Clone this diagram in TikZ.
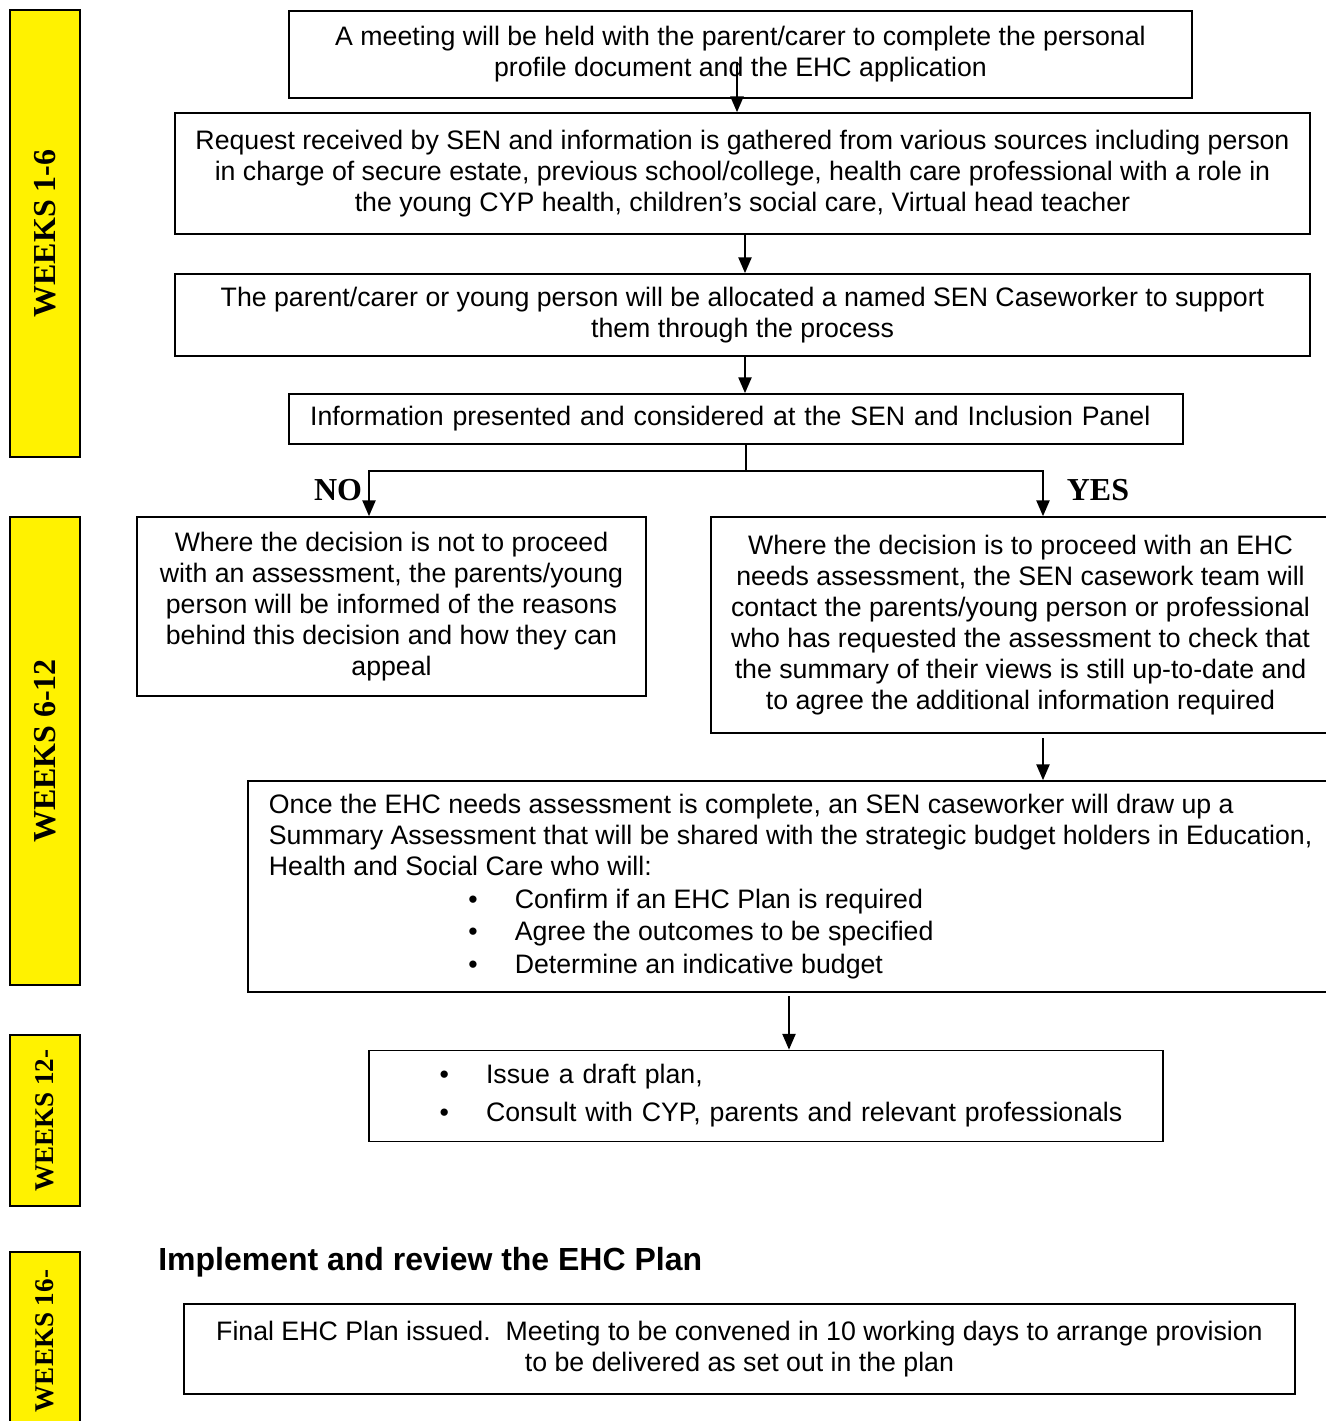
\documentclass[tikz,border=0pt]{standalone}
\usepackage{fontspec}
\setmainfont{Liberation Sans}
\newfontfamily\timesfam{Liberation Serif}
\usetikzlibrary{arrows.meta}

\newcommand{\bodyfont}{\fontsize{15.2}{17.6}\selectfont}
\newcommand{\tagfont}{\timesfam\bfseries\fontsize{18.2}{22}\selectfont}
\newcommand{\smalltagfont}{\timesfam\bfseries\fontsize{15.4}{18}\selectfont}
\newcommand{\bul}[1]{\makebox[#1][r]{\textbullet\hspace{0.74cm}}}

\tikzset{
  box/.style={draw, line width=1pt, inner sep=0pt, align=center, font=\bodyfont},
  weeks/.style={draw, fill=yellow, line width=1pt, rotate=90, minimum height=1.4cm,
    inner sep=0pt, font=\tagfont},
  arr/.style={-{Triangle[width=7.5pt,length=9pt]}, line width=1pt},
  yesno/.style={font=\tagfont, inner sep=0pt},
}

\begin{document}
\begin{tikzpicture}[x=0.02cm, y=-0.02cm]
  \useasboundingbox (0,0) rectangle (1326,1421);

  % week bars
  \node[weeks, minimum width=8.94cm] (wk1) at (45,233.5) {WEEKS 1-6};
  \node[weeks, minimum width=9.36cm] (wk2) at (45,751) {WEEKS 6-12};
  \node[weeks, minimum width=3.42cm, font=\smalltagfont] (wk3) at (45,1120.5) {WEEKS 12-};
  \node[weeks, minimum width=3.56cm, font=\smalltagfont] (wk4) at (45,1341) {WEEKS 16-};

  % main boxes
  \node[box, minimum width=18.06cm, minimum height=1.74cm] (meet) at (740.5,54.5)
    {A meeting will be held with the parent/carer to complete the personal\\
     profile document and the EHC application};
  \node[box, minimum width=22.7cm, minimum height=2.42cm] (request) at (742.5,173.5)
    {Request received by SEN and information is gathered from various sources including person\\
     in charge of secure estate, previous school/college, health care professional with a role in\\
     the young CYP health, children’s social care, Virtual head teacher};
  \node[box, minimum width=22.7cm, minimum height=1.64cm] (alloc) at (742.5,315)
    {The parent/carer or young person will be allocated a named SEN Caseworker to support\\
     them through the process};
  \node[box, align=left, text width=17.04cm, inner xsep=0.42cm, minimum height=1cm] (panel) at (736,419)
    {Information presented and considered at the SEN and Inclusion Panel};

  \node[box, minimum width=10.18cm, minimum height=3.58cm] (no) at (391.5,606.5)
    {Where the decision is not to proceed\\
     with an assessment, the parents/young\\
     person will be informed of the reasons\\
     behind this decision and how they can\\
     appeal};
  \node[box, minimum width=12.38cm, minimum height=4.32cm] (yes) at (1020.5,625)
    {Where the decision is to proceed with an EHC\\
     needs assessment, the SEN casework team will\\
     contact the parents/young person or professional\\
     who has requested the assessment to check that\\
     the summary of their views is still up-to-date and\\
     to agree the additional information required};

  \node[box, anchor=west, align=left, inner xsep=0.42cm, minimum width=21.66cm, minimum height=4.22cm] (summary) at (247,886.5)
    {Once the EHC needs assessment is complete, an SEN caseworker will draw up a\\
     Summary Assessment that will be shared with the strategic budget holders in Education,\\
     Health and Social Care who will:\\[1pt]
     \bul{4.92cm}Confirm if an EHC Plan is required\\[1pt]
     \bul{4.92cm}Agree the outcomes to be specified\\[1pt]
     \bul{4.92cm}Determine an indicative budget};

  \node[box, align=left, text width=15.88cm, minimum height=1.82cm] (draft) at (766,1096)
    {\bul{2.34cm}Issue a draft plan,\\[4pt]
     \bul{2.34cm}Consult with CYP, parents and relevant professionals};

  \node[anchor=west, inner sep=0pt, font=\bfseries\fontsize{18.2}{22}\selectfont] (head) at (158,1262)
    {Implement and review the EHC Plan};

  \node[box, minimum width=22.22cm, minimum height=1.8cm] (final) at (739.5,1349)
    {Final EHC Plan issued.\ \ Meeting to be convened in 10 working days to arrange provision\\
     to be delivered as set out in the plan};

  % decision labels
  \node[yesno] (nolbl) at (338,490) {NO};
  \node[yesno] (yeslbl) at (1098,490) {YES};

  % connectors
  \coordinate (a1) at (737,62);
  \draw[arr] (a1) -- (a1 |- request.north);
  \draw[arr] ([xshift=0.05cm]request.south) -- ([xshift=0.05cm]alloc.north);
  \draw[arr] ([xshift=0.05cm]alloc.south) -- ([xshift=0.05cm]alloc.south |- panel.north);

  \coordinate (split) at (746,471);
  \draw[line width=1pt] (split |- panel.south) -- (split);
  \draw[arr] (split) -| (369,471) -- (369,471 |- no.north);
  \draw[arr] (split) -| (1043,471) -- (1043,471 |- yes.north);

  \coordinate (a4) at (1043,738);
  \draw[arr] (a4) -- (a4 |- summary.north);
  \coordinate (a5) at (789,996);
  \draw[arr] (a5) -- (a5 |- draft.north);
\end{tikzpicture}
\end{document}
